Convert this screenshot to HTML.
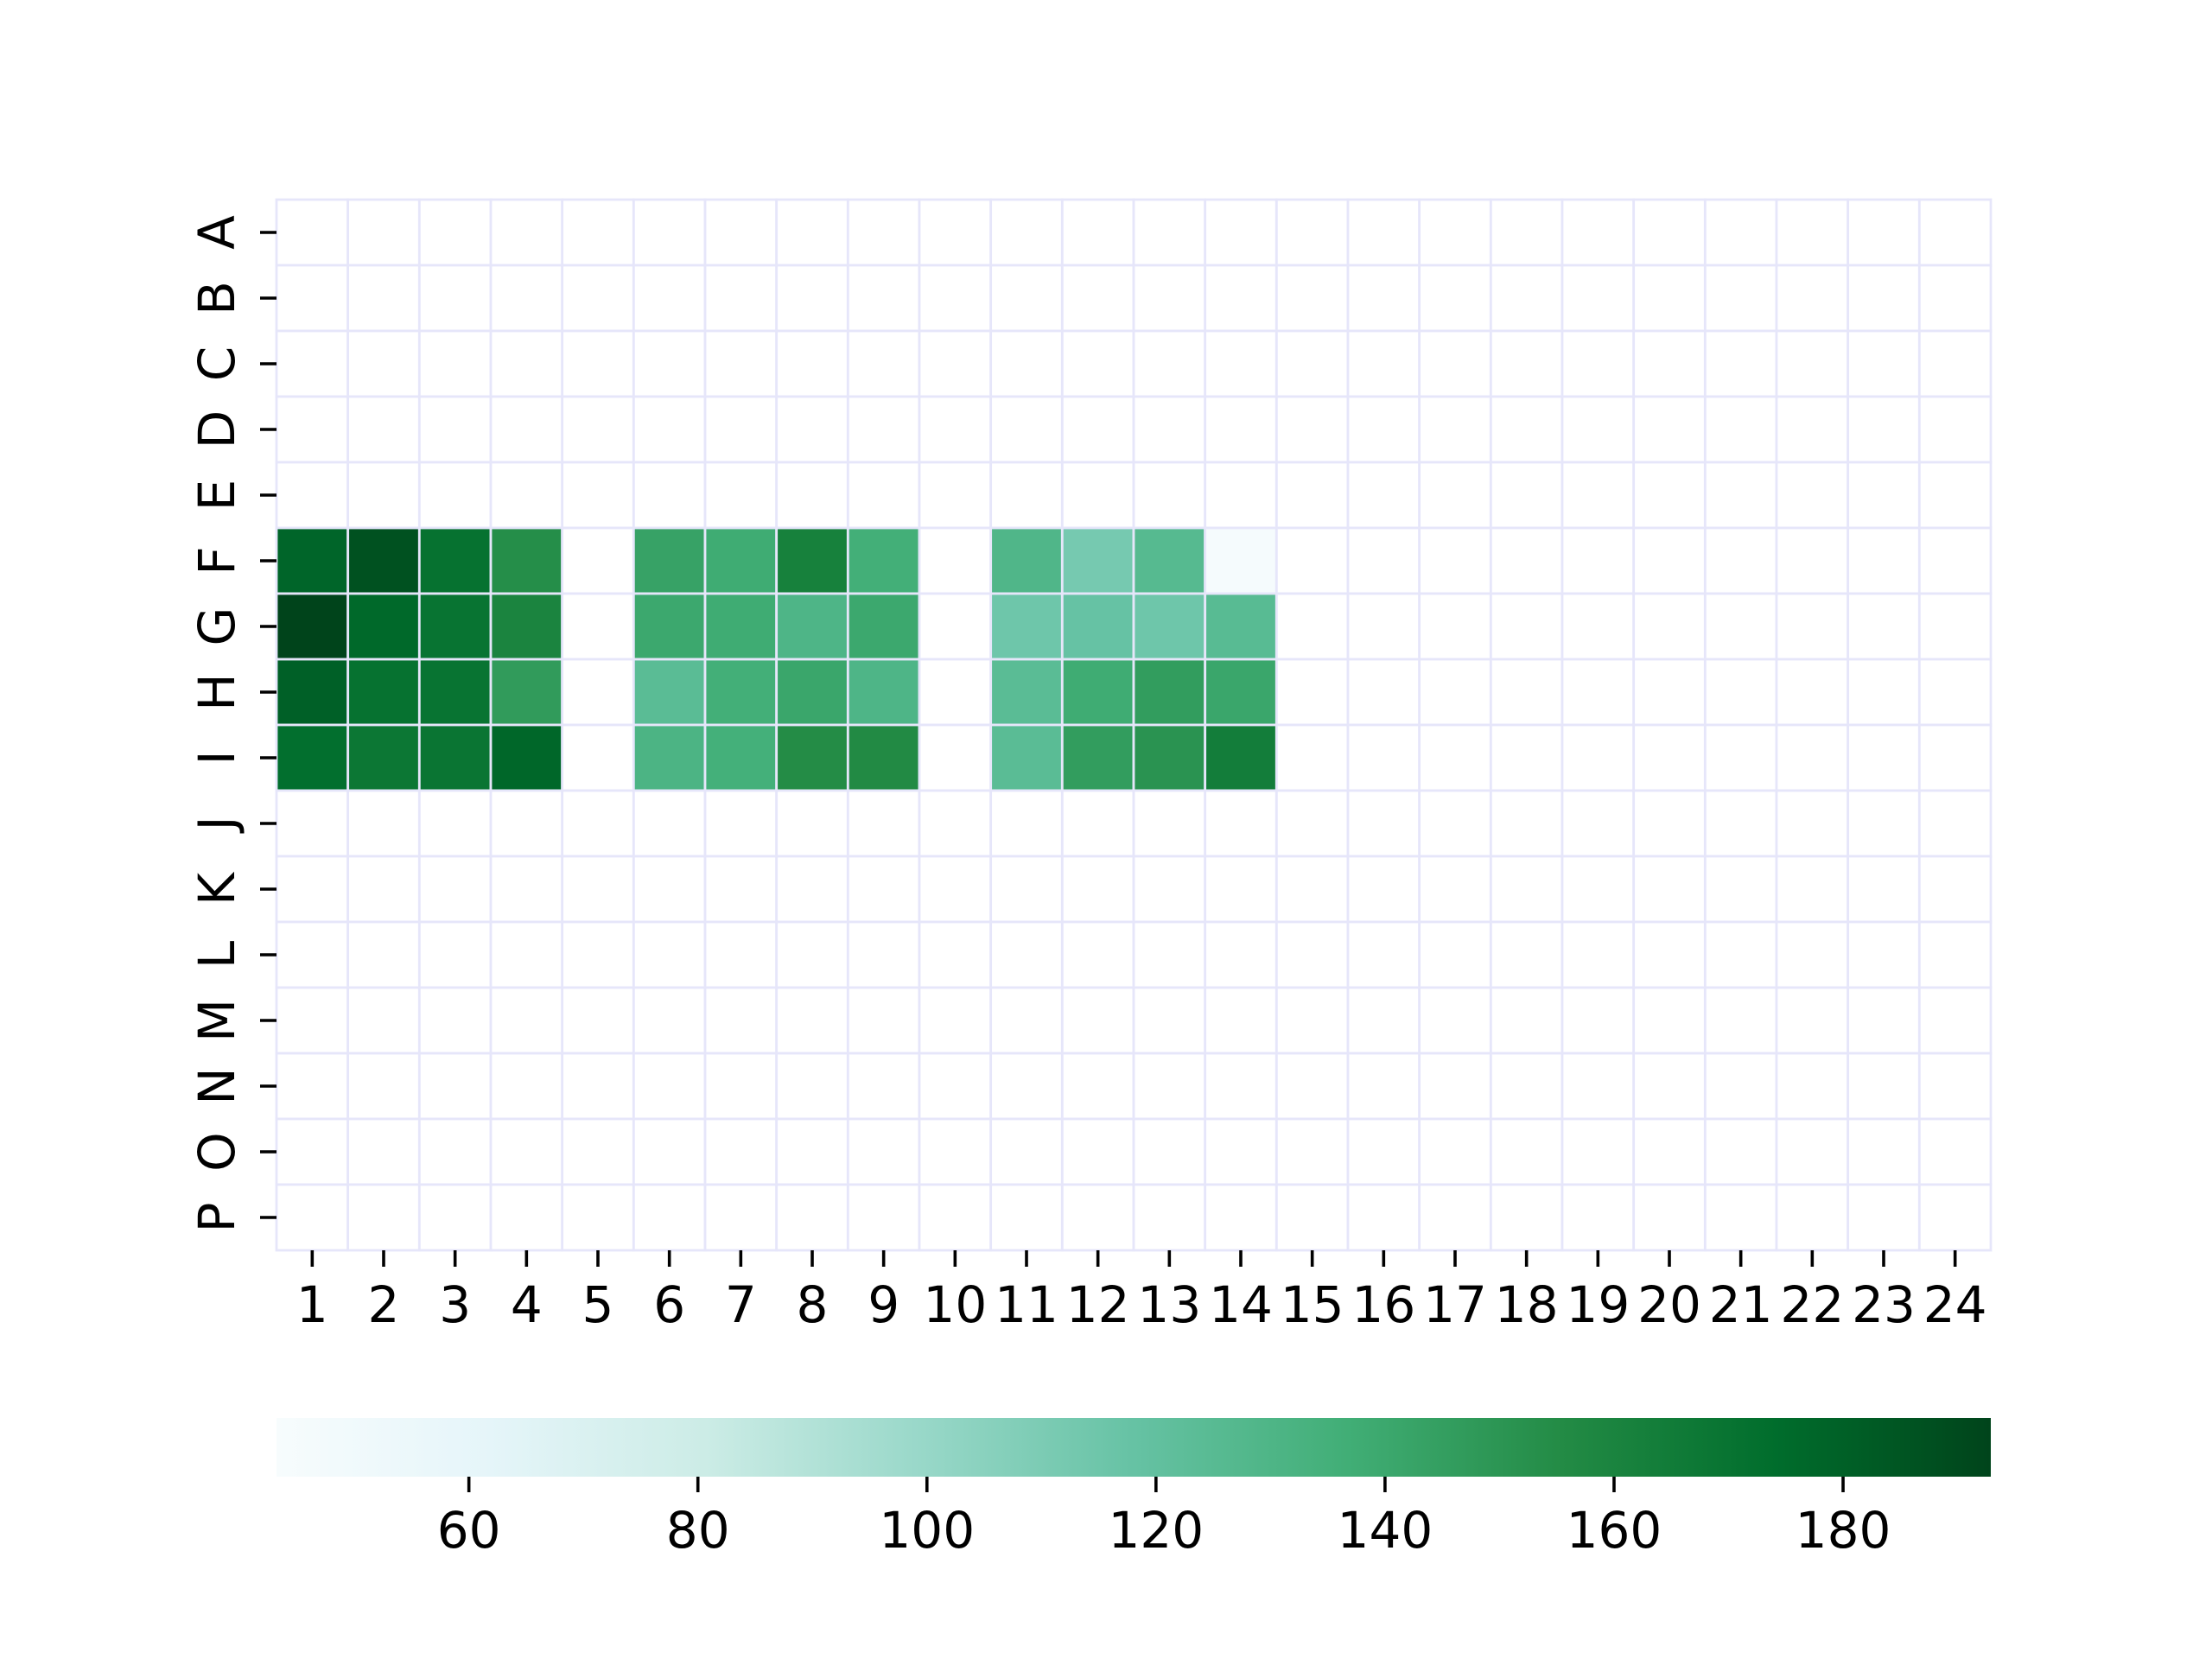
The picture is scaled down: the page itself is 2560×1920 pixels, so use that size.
<!DOCTYPE html>
<html><head><meta charset="utf-8"><style>
html,body{margin:0;padding:0;background:#fff;}
svg{display:block;font-family:"DejaVu Sans","Liberation Sans",sans-serif;}
</style></head><body>
<svg id="chart" width="2560" height="1920" viewBox="0 0 2560 1920" xmlns="http://www.w3.org/2000/svg">
<rect width="2560" height="1920" fill="#fff"/>
<defs><linearGradient id="bugn" x1="0" x2="1" y1="0" y2="0">
<stop offset="0" stop-color="#f7fcfd"/><stop offset="0.125" stop-color="#e5f5f9"/><stop offset="0.25" stop-color="#ccece6"/><stop offset="0.375" stop-color="#99d8c9"/><stop offset="0.5" stop-color="#66c2a4"/><stop offset="0.625" stop-color="#41ae76"/><stop offset="0.75" stop-color="#238b45"/><stop offset="0.875" stop-color="#006d2c"/><stop offset="1" stop-color="#00441b"/>
</linearGradient></defs>
<g id="cells"></g>
<g id="yaxis"></g>
<g id="xaxis"></g>
<rect x="320" y="1641" width="1984" height="68" fill="url(#bugn)"/>
<g id="cbaxis"></g>
</svg>
<script>
const rowLabels = ["A","B","C","D","E","F","G","H","I","J","K","L","M","N","O","P"];
const colLabels = ["1","2","3","4","5","6","7","8","9","10","11","12","13","14","15","16","17","18","19","20","21","22","23","24"];
const rowF = [178,187,171,154,null,143,138,162,136,null,129,112,126,45];
const rowG = [193,176,170,160,null,140,138,130,140,null,115,118,115,125];
const rowH = [180,171,170,147,null,124,136,141,130,null,124,138,146,141];
const rowI = [173,168,169,177,null,131,135,155,156,null,124,146,151,164];
const cbTicks = [60,80,100,120,140,160,180];
const vmin = 43.2, vmax = 192.9;

const NS = "http://www.w3.org/2000/svg";
const L = 320, R = 2304, T = 231, B = 1447;
const cw = (R - L) / colLabels.length, ch = (B - T) / rowLabels.length;
const xPos = i => L + i * cw;
const yPos = j => T + j * ch;
const cbX = v => L + (v - vmin) / (vmax - vmin) * (R - L);
const stops = ["#f7fcfd","#e5f5f9","#ccece6","#99d8c9","#66c2a4","#41ae76","#238b45","#006d2c","#00441b"].map(h => [1,3,5].map(k => parseInt(h.substr(k,2),16)));
function color(v){
  let t = Math.max(0, Math.min(1, (v - vmin) / (vmax - vmin))) * 8;
  let i = Math.min(7, Math.floor(t)), f = t - i;
  const c = stops[i].map((a,k) => Math.round(a + (stops[i+1][k] - a) * f));
  return "rgb(" + c.join(",") + ")";
}
function mk(tag, attrs, parent){
  const e = document.createElementNS(NS, tag);
  for (const k in attrs) e.setAttribute(k, attrs[k]);
  parent.appendChild(e);
  return e;
}
const data = {5: rowF, 6: rowG, 7: rowH, 8: rowI};
const cells = document.getElementById("cells");
for (let j = 0; j < rowLabels.length; j++){
  for (let i = 0; i < colLabels.length; i++){
    const row = data[j];
    const v = row && i < row.length ? row[i] : null;
    const r = mk("rect", {x: xPos(i), y: yPos(j), width: cw, height: ch, fill: v == null ? "#ffffff" : color(v), stroke: "#e6e6fa", "stroke-width": 2.8}, cells);
    
    
  }
}
const ya = document.getElementById("yaxis");
rowLabels.forEach((lab, j) => {
  const cy = yPos(j) + ch / 2;
  const t = mk("line", {x1: L - 19, x2: L, y1: cy, y2: cy, stroke: "#000", "stroke-width": 3.6}, ya);
  
  
  const tx = mk("text", {transform: "translate(271," + cy + ") rotate(-90)", "text-anchor": "middle", "font-size": 58}, ya);
  tx.textContent = lab;
  
  
});
const xa = document.getElementById("xaxis");
colLabels.forEach((lab, i) => {
  const cx = xPos(i) + cw / 2;
  const t = mk("line", {x1: cx, x2: cx, y1: B, y2: B + 19, stroke: "#000", "stroke-width": 3.6}, xa);
  
  
  const tx = mk("text", {x: cx, y: 1530, "text-anchor": "middle", "font-size": 58}, xa);
  tx.textContent = lab;
  
  
});
const ca = document.getElementById("cbaxis");
cbTicks.forEach(v => {
  const x = cbX(v);
  const t = mk("line", {x1: x, x2: x, y1: 1709, y2: 1727, stroke: "#000", "stroke-width": 3.6}, ca);
  
  
  const tx = mk("text", {x: x, y: 1791, "text-anchor": "middle", "font-size": 58}, ca);
  tx.textContent = v;
  
  
});
</script>
</body></html>
